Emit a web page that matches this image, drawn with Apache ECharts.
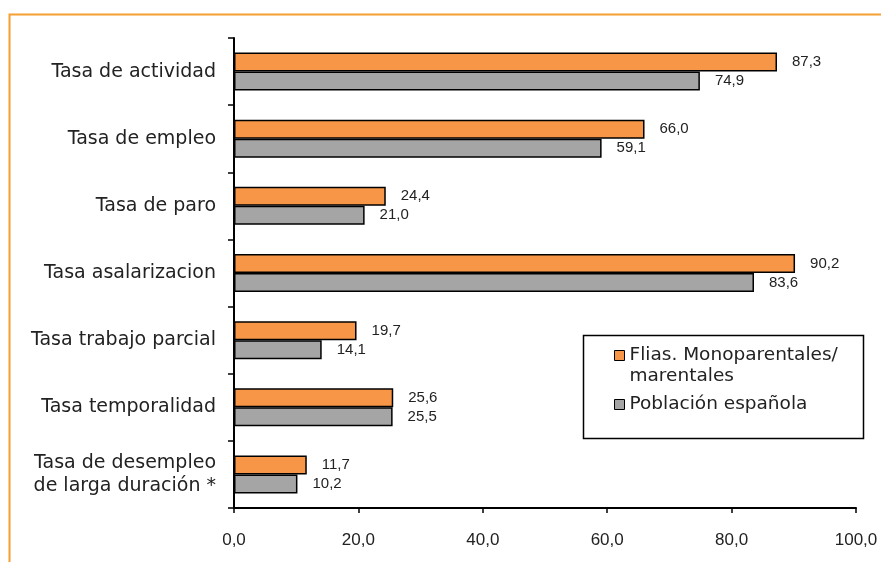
<!DOCTYPE html>
<html>
<head>
<meta charset="utf-8">
<script src="https://cdn.jsdelivr.net/npm/echarts@6/dist/echarts.min.js"></script>
<style>
  html, body { margin: 0; padding: 0; background: #fff; }
  #chart { width: 881px; height: 562px; }
</style>
</head>
<body>
<div id="chart"></div>
<script>
// Indicadores del mercado laboral (%)
const categories = [
  'Tasa de actividad',
  'Tasa de empleo',
  'Tasa de paro',
  'Tasa asalarizacion',
  'Tasa trabajo parcial',
  'Tasa temporalidad',
  'Tasa de desempleo\nde larga duración *'
];
const seriesNames = ['Flias. Monoparentales/\nmarentales', 'Población española'];
const monoparentales = [87.3, 66.0, 24.4, 90.2, 19.7, 25.6, 11.7];
const poblacion = [74.9, 59.1, 21.0, 83.6, 14.1, 25.5, 10.2];
const xTicks = [0, 20, 40, 60, 80, 100];

const TEXT_FONT = 'DejaVu Sans';
const NUM_FONT = 'Liberation Sans';
const fmt = v => v.toFixed(1).replace('.', ',');

const chart = echarts.init(document.getElementById('chart'), null, { renderer: 'canvas' });

const barLabel = {
  show: true,
  position: 'right',
  distance: 15,
  color: '#222',
  fontFamily: NUM_FONT,
  fontSize: 15,
  formatter: p => fmt(p.value)
};

chart.setOption({
  animation: false,
  backgroundColor: '#fff',
  textStyle: { fontFamily: TEXT_FONT },
  grid: { left: 234, right: 25, top: 38, bottom: 54, containLabel: false },
  graphic: [
    {
      // marco exterior
      type: 'polyline',
      silent: true,
      shape: { points: [[9.5, 600], [9.5, 14.5], [900, 14.5]] },
      style: { stroke: '#f5a030', lineWidth: 2, fill: null }
    },
    {
      // recuadro de la leyenda
      type: 'rect',
      silent: true,
      z: 0,
      shape: { x: 583.5, y: 335.5, width: 280, height: 103 },
      style: { stroke: '#000', lineWidth: 1.5, fill: '#fff' }
    }
  ],
  legend: {
    orient: 'vertical',
    left: 614,
    top: 324,
    padding: 0,
    itemGap: 7,
    itemWidth: 10,
    itemHeight: 10,
    z: 5,
    icon: 'rect',
    itemStyle: { borderColor: '#000', borderWidth: 1 },
    textStyle: { fontFamily: TEXT_FONT, fontSize: 18.5, color: '#222', lineHeight: 21 },
    // a leading blank line keeps the first line of a wrapped name level with its swatch
    formatter: name => (name.indexOf('\n') >= 0 ? '\n' + name : name),
    data: seriesNames
  },
  xAxis: {
    type: 'value',
    min: 0,
    max: 100,
    interval: 20,
    axisLine: { show: true, lineStyle: { color: '#000', width: 2 } },
    axisTick: { show: true, length: 5, lineStyle: { color: '#000', width: 1.5 } },
    splitLine: { show: false },
    axisLabel: {
      fontFamily: NUM_FONT, fontSize: 17, color: '#222', margin: 24,
      formatter: v => xTicks.includes(v) ? fmt(v) : ''
    }
  },
  yAxis: {
    type: 'category',
    inverse: true,
    data: categories,
    axisLine: { show: true, lineStyle: { color: '#000', width: 2 } },
    axisTick: { show: true, length: 6, lineStyle: { color: '#000', width: 1.5 } },
    axisLabel: {
      fontFamily: TEXT_FONT, fontSize: 19, color: '#222', margin: 18, lineHeight: 23, align: 'right'
    }
  },
  series: [
    {
      name: seriesNames[0],
      type: 'bar',
      data: monoparentales,
      barWidth: 19,
      barGap: '0%',
      itemStyle: { color: '#f79646', borderColor: '#000', borderWidth: 1.5 },
      label: barLabel
    },
    {
      name: seriesNames[1],
      type: 'bar',
      data: poblacion,
      barWidth: 19,
      barGap: '0%',
      itemStyle: { color: '#a5a5a5', borderColor: '#000', borderWidth: 1.5 },
      label: barLabel
    }
  ]
});
</script>
</body>
</html>
